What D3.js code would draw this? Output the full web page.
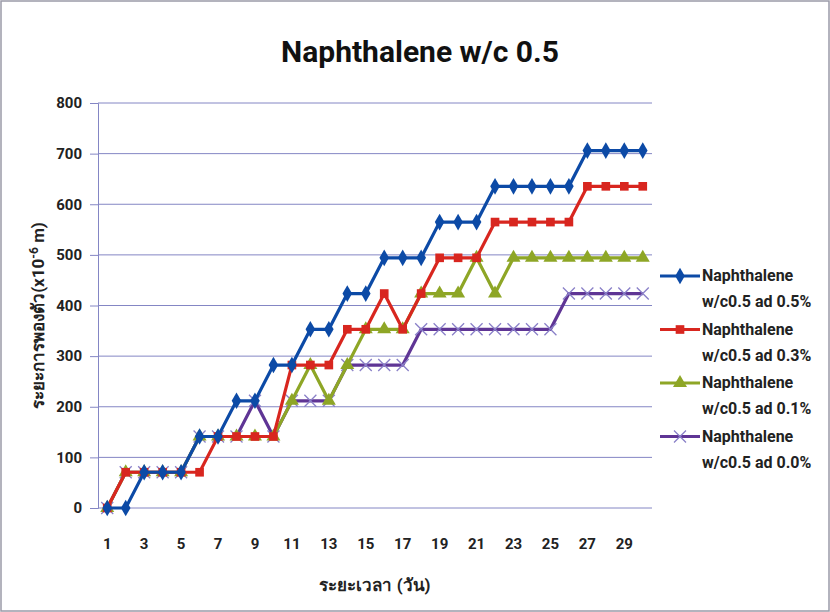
<!DOCTYPE html>
<html>
<head>
<meta charset="utf-8">
<script src="https://cdn.jsdelivr.net/npm/d3@7"></script>
<style>
body { margin: 0; background: #fff; }
text { font-family: "Liberation Sans Narrow", "Roboto", sans-serif; }
</style>
</head>
<body>
<div id="chart"></div>
<script>
// days 1..30
const days = d3.range(1, 31);
const yTicks = [0, 100, 200, 300, 400, 500, 600, 700, 800];

// swelling values (x10^-6 m)
const ad05 = [0, 0, 70.6, 70.6, 70.6, 141.2, 141.2, 211.8, 211.8, 282.4, 282.4, 353, 353, 423.6, 423.6, 494.2, 494.2, 494.2, 564.8, 564.8, 564.8, 635.4, 635.4, 635.4, 635.4, 635.4, 706, 706, 706, 706];
const ad03 = [0, 70.6, 70.6, 70.6, 70.6, 70.6, 141.2, 141.2, 141.2, 141.2, 282.4, 282.4, 282.4, 353, 353, 423.6, 353, 423.6, 494.2, 494.2, 494.2, 564.8, 564.8, 564.8, 564.8, 564.8, 635.4, 635.4, 635.4, 635.4];
const ad01 = [0, 70.6, 70.6, 70.6, 70.6, 141.2, 141.2, 141.2, 141.2, 141.2, 211.8, 282.4, 211.8, 282.4, 353, 353, 353, 423.6, 423.6, 423.6, 494.2, 423.6, 494.2, 494.2, 494.2, 494.2, 494.2, 494.2, 494.2, 494.2];
const ad00 = [0, 70.6, 70.6, 70.6, 70.6, 141.2, 141.2, 141.2, 211.8, 141.2, 211.8, 211.8, 211.8, 282.4, 282.4, 282.4, 282.4, 353, 353, 353, 353, 353, 353, 353, 353, 423.6, 423.6, 423.6, 423.6, 423.6];

const seriesNames = ["w/c0.5 ad 0.5%", "w/c0.5 ad 0.3%", "w/c0.5 ad 0.1%", "w/c0.5 ad 0.0%"];
const seriesColors = ["#0c4aa6", "#d8261f", "#8ea626", "#5f3595"];
const seriesMarkers = ["diamond", "square", "triangle", "cross"];
const seriesData = [ad05, ad03, ad01, ad00];

const W = 830, H = 612;
const margin = {top: 103, right: 178, bottom: 104, left: 98};
const width = W - margin.left - margin.right,
      height = H - margin.top - margin.bottom;

const svg = d3.select("#chart").append("svg")
  .attr("width", W).attr("height", H);

// outer frame
svg.append("rect").attr("x", 1).attr("y", 1).attr("width", W - 2).attr("height", H - 2)
  .attr("fill", "#fff").attr("stroke", "#9a9aa8").attr("stroke-width", 1.5);

const g = svg.append("g").attr("transform", `translate(${margin.left},${margin.top})`);

const x = d3.scaleBand().domain(days).range([0, width]);
const y = d3.scaleLinear().domain([0, 800]).range([height, 0]);
const cx = d => x(d) + x.bandwidth() / 2;

// gridlines
g.selectAll(".grid").data(yTicks).join("line")
  .attr("x1", 0).attr("x2", width)
  .attr("y1", d => y(d)).attr("y2", d => y(d))
  .attr("stroke", "#8486c4").attr("stroke-width", 1);

// y axis
const yAxis = g.append("g")
  .call(d3.axisLeft(y).tickValues(yTicks).tickSize(8).tickPadding(8));
yAxis.select(".domain").attr("stroke", "#8486c4");
yAxis.selectAll(".tick line").attr("stroke", "#8486c4");
yAxis.selectAll("text").attr("font-size", 15).attr("font-weight", "bold").attr("fill", "#222");

// x axis labels (odd days)
const xAxis = g.append("g").attr("transform", `translate(0,${height})`)
  .call(d3.axisBottom(x).tickValues(days.filter(d => d % 2 === 1)).tickSize(0).tickPadding(30));
xAxis.select(".domain").remove();
xAxis.selectAll("text").attr("font-size", 15).attr("font-weight", "bold").attr("fill", "#222");

// marker drawing
function marker(sel, type, color) {
  if (type === "cross") {
    sel.append("path").attr("d", "M-6,-6L6,6M-6,6L6,-6")
      .attr("stroke", "#8a80c8").attr("stroke-width", 1.3).attr("fill", "none");
  } else {
    const sym = {diamond: d3.symbolDiamond, square: d3.symbolSquare, triangle: d3.symbolTriangle}[type];
    const size = {diamond: 80, square: 75, triangle: 85}[type];
    sel.append("path").attr("d", d3.symbol(sym, size)).attr("fill", color);
  }
}

const line = d3.line().x((d, i) => cx(days[i])).y(d => y(d));

// draw back to front so blue sits on top
for (let s = seriesData.length - 1; s >= 0; s--) {
  const sg = g.append("g");
  sg.append("path").datum(seriesData[s])
    .attr("d", line).attr("fill", "none")
    .attr("stroke", seriesColors[s]).attr("stroke-width", 3.2);
  sg.selectAll(".pt").data(seriesData[s]).join("g")
    .attr("transform", (d, i) => `translate(${cx(days[i])},${y(d)})`)
    .each(function () { marker(d3.select(this), seriesMarkers[s], seriesColors[s]); });
}

// title
svg.append("text").attr("x", 420).attr("y", 62).attr("text-anchor", "middle")
  .attr("font-size", 30).attr("font-weight", "bold").attr("fill", "#111")
  .text("Naphthalene w/c 0.5");

// axis titles
svg.append("text").attr("x", 375).attr("y", 591).attr("text-anchor", "middle")
  .attr("font-size", 17).attr("font-weight", "bold").attr("fill", "#222")
  .text("ระยะเวลา (วัน)");

const yt = svg.append("text")
  .attr("transform", `translate(44,${margin.top + height / 2 + 10}) rotate(-90)`)
  .attr("text-anchor", "middle").attr("font-size", 17).attr("font-weight", "bold").attr("fill", "#222");
yt.append("tspan").text("ระยะการพองตัว(x10");
yt.append("tspan").attr("font-size", 12).attr("dy", -6).text("-6");
yt.append("tspan").attr("dy", 6).text(" m)");

// legend
const leg = svg.append("g").attr("transform", "translate(660,276)");
seriesNames.forEach((name, i) => {
  const lg = leg.append("g").attr("transform", `translate(0,${i * 53.5})`);
  lg.append("line").attr("x1", 0).attr("x2", 40).attr("y1", 0).attr("y2", 0)
    .attr("stroke", seriesColors[i]).attr("stroke-width", 3.2);
  marker(lg.append("g").attr("transform", "translate(20,0)"), seriesMarkers[i], seriesColors[i]);
  lg.append("text").attr("x", 42).attr("y", 5).attr("font-size", 16).attr("font-weight", "bold")
    .attr("fill", "#222").text("Naphthalene");
  lg.append("text").attr("x", 42).attr("y", 31).attr("font-size", 16).attr("font-weight", "bold")
    .attr("fill", "#222").text(name);
});
</script>
</body>
</html>
